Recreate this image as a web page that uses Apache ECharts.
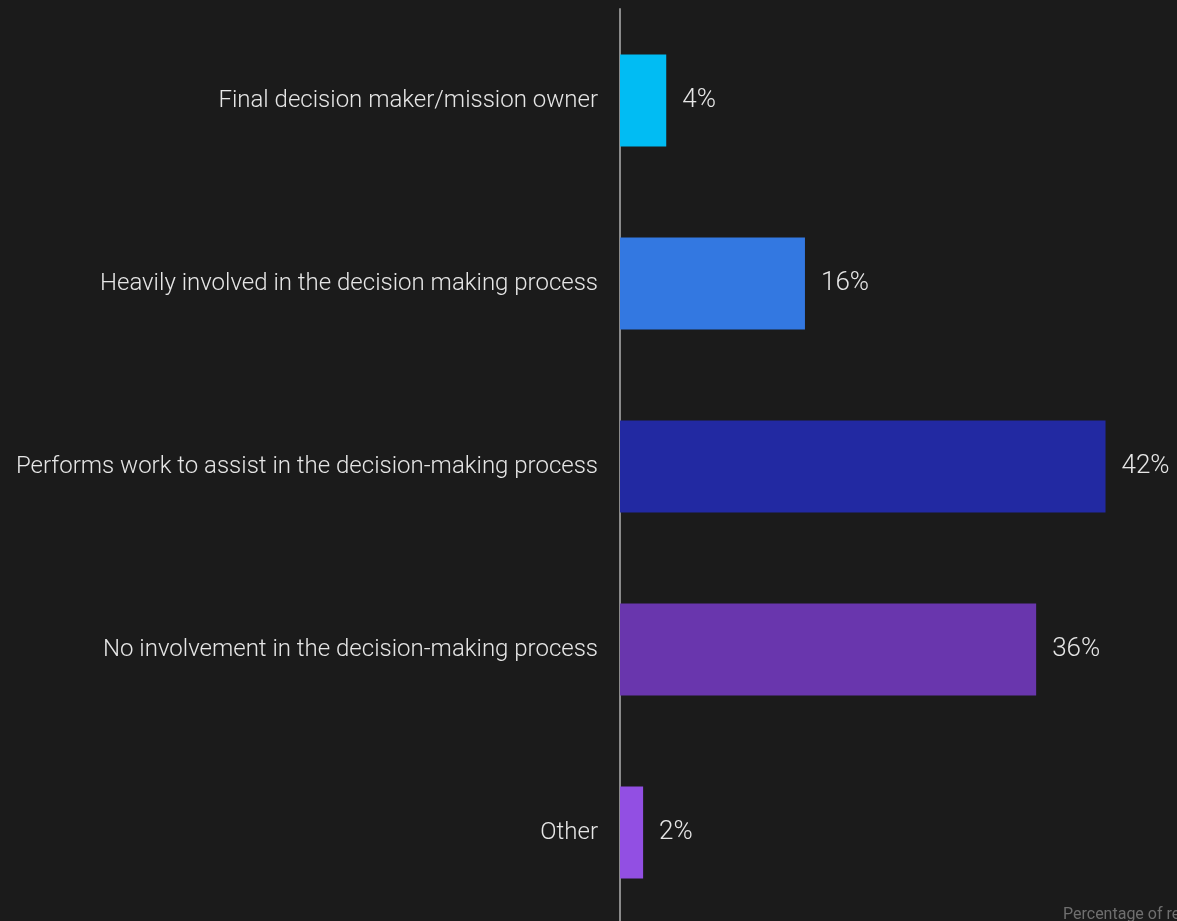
<!DOCTYPE html>
<html>
<head>
<meta charset="utf-8">
<style>
  html, body { margin: 0; padding: 0; background: #1b1b1b; }
  #chart { width: 1177px; height: 921px; }
</style>
<script src="https://cdn.jsdelivr.net/npm/echarts@6/dist/echarts.min.js"></script>
</head>
<body>
<div id="chart"></div>
<script>
// Involvement in the decision-making process (share of respondents)
const categories = [
  'Final decision maker/mission owner',
  'Heavily involved in the decision making process',
  'Performs work to assist in the decision-making process',
  'No involvement in the decision-making process',
  'Other'
];
const values = [4, 16, 42, 36, 2];
const barColors = ['#01bcf3', '#3378e1', '#2229a2', '#6936ad', '#924fe3'];

const chart = echarts.init(document.getElementById('chart'));
chart.setOption({
  backgroundColor: '#1b1b1b',
  animation: false,
  title: {
    text: 'Percentage of respondents',
    left: 1063,
    top: 907,
    padding: 0,
    textStyle: { color: '#6f6f6f', fontSize: 16, fontWeight: 400, fontFamily: 'Roboto' }
  },
  grid: {
    left: 620, top: 9, width: 578, height: 915,
    containLabel: false,
    outerBoundsMode: 'none'
  },
  xAxis: {
    type: 'value',
    min: 0,
    max: 50,
    show: false
  },
  yAxis: {
    type: 'category',
    data: categories,
    inverse: true,
    axisLine: { show: true, lineStyle: { color: '#8a8a8a', width: 2 } },
    axisTick: { show: false },
    splitLine: { show: false },
    axisLabel: {
      color: '#e6e6e6',
      fontSize: 24,
      fontWeight: 300,
      fontFamily: 'Roboto',
      margin: 22,
      padding: [8, 0, 0, 0]
    }
  },
  series: [{
    type: 'bar',
    barWidth: 92,
    data: values.map((v, i) => ({ value: v, itemStyle: { color: barColors[i] } })),
    label: {
      show: true,
      position: 'right',
      distance: 16,
      formatter: '{c}%',
      color: '#e6e6e6',
      fontSize: 26,
      fontWeight: 300,
      fontFamily: 'Roboto',
      padding: [8, 0, 0, 0]
    }
  }]
});
</script>
</body>
</html>
